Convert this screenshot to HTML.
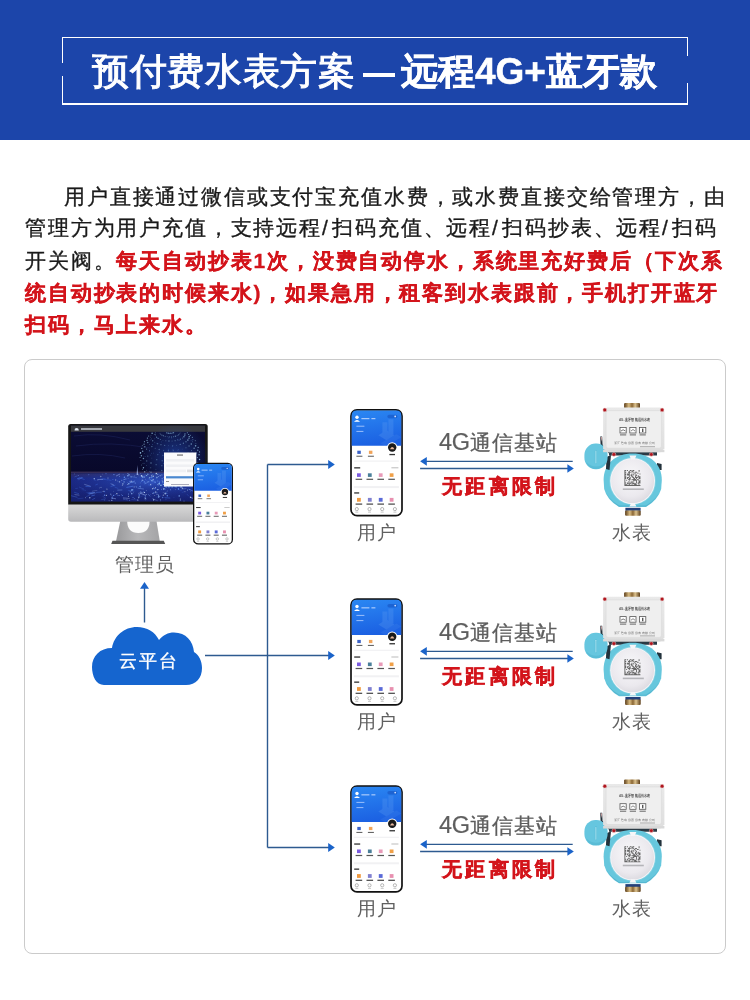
<!DOCTYPE html>
<html><head><meta charset="utf-8"><style>
*{margin:0;padding:0;box-sizing:border-box}
html,body{width:750px;height:1000px;overflow:hidden;background:#fff;font-family:"Liberation Sans",sans-serif}
.abs{position:absolute}
.t1,.t2,.p,.lbl,.g4,.nd{will-change:transform}
#hdr{position:absolute;left:0;top:0;width:750px;height:140px;background:#1c45aa}
.fl{position:absolute;background:#fff}
.t1{position:absolute;top:50px;height:44px;line-height:44px;font-size:37px;color:#fff;white-space:nowrap;-webkit-text-stroke:1px #fff}
.t2{position:absolute;top:50px;height:44px;line-height:44px;font-size:37px;color:#fff;white-space:nowrap;font-weight:bold;-webkit-text-stroke:0.5px #fff}
.p{position:absolute;left:0;height:32px;line-height:32px;font-size:21px;letter-spacing:1.85px;color:#1a1a1a;white-space:nowrap;-webkit-text-stroke:0.35px #1a1a1a}
.p .r,.p.r{-webkit-text-stroke:0.3px #d3141b}
.r{color:#d3141b;font-weight:bold}
.sl{letter-spacing:4.2px}
#card{position:absolute;left:24px;top:359px;width:702px;height:595px;border:1.3px solid #cbcbcb;border-radius:8px}
.lbl{position:absolute;font-size:19px;color:#606060;white-space:nowrap;line-height:24px;letter-spacing:1px}
.n4{font-size:23.5px;letter-spacing:-0.4px;-webkit-text-stroke:0.2px #5e5e5e}
.g4{position:absolute;font-size:20.5px;color:#5e5e5e;-webkit-text-stroke:0.3px #5e5e5e;white-space:nowrap;line-height:24px;letter-spacing:1.3px}
.nd{position:absolute;font-size:20px;color:#d3141b;font-weight:bold;-webkit-text-stroke:0.5px #d3141b;white-space:nowrap;line-height:24px;letter-spacing:3.3px}
</style></head><body>
<div id="hdr">
  <div class="fl" style="left:62px;top:37.2px;width:626px;height:1.2px"></div>
  <div class="fl" style="left:62px;top:103.4px;width:626px;height:1.2px"></div>
  <div class="fl" style="left:62px;top:37.2px;width:1.2px;height:26px"></div>
  <div class="fl" style="left:62px;top:76px;width:1.2px;height:28.6px"></div>
  <div class="fl" style="left:686.8px;top:37.2px;width:1.2px;height:19px"></div>
  <div class="fl" style="left:686.8px;top:83px;width:1.2px;height:21.6px"></div>
  <div class="t1" style="left:92px;letter-spacing:0.7px">预付费水表方案</div>
  <div class="fl" style="left:362.5px;top:73.2px;width:32px;height:3.6px"></div>
  <div class="t2" style="left:401px">远程4G+蓝牙款</div>
</div>
<div class="p" style="left:64px;top:181px">用户直接通过微信或支付宝充值水费，或水费直接交给管理方，由</div>
<div class="p" style="left:25px;top:212px">管理方为用户充值，支持远程<span class="sl">/</span>扫码充值、远程<span class="sl">/</span>扫码抄表、远程<span class="sl">/</span>扫码</div>
<div class="p" style="left:25px;top:245px">开关阀。<span class="r">每天自动抄表1次，没费自动停水，系统里充好费后（下次系</span></div>
<div class="p r" style="left:25px;top:277px">统自动抄表的时候来水)，如果急用，租客到水表跟前，手机打开蓝牙</div>
<div class="p r" style="left:25px;top:309px">扫码，马上来水。</div>
<div id="card"></div>

<svg class="abs" style="left:0;top:0" width="750" height="1000" viewBox="0 0 750 1000"><defs><linearGradient id="phb" x1="0.2" y1="0" x2="0.4" y2="1"><stop offset="0" stop-color="#2a86f2"/><stop offset="1" stop-color="#1b60e2"/></linearGradient><g id="uphone"><rect x="0.6" y="0.6" width="51" height="105.8" rx="6" fill="#fff" stroke="#111" stroke-width="1.7"/><path d="M1.3 6 Q1.3 1.3 6 1.3 H46.2 Q50.9 1.3 50.9 6 V36.4 H1.3 Z" fill="url(#phb)"/><g fill="#5d9cf2" opacity="0.3"><path d="M28 26 L36 21 L44 26 L36 31 Z"/><rect x="32" y="13" width="5" height="14"/><rect x="38" y="10" width="5" height="15"/><path d="M30 34 L46 25 L51 28 L35 37 Z" opacity="0.5"/></g><circle cx="6.6" cy="8" r="1.7" fill="#fff"/><path d="M3.6 12.4 Q6.6 9.2 9.6 12.4 Z" fill="#fff"/><rect x="11" y="8.8" width="8" height="1.1" fill="#cfe0ff" opacity="0.85"/><rect x="21" y="8.8" width="4" height="1.1" fill="#cfe0ff" opacity="0.85"/><rect x="6" y="16.4" width="8" height="1" fill="#b9d2ff" opacity="0.8"/><rect x="6" y="21.6" width="7" height="1" fill="#b9d2ff" opacity="0.8"/><rect x="37" y="5.4" width="10" height="3.5" rx="1.7" fill="#1553c2" opacity="0.6"/><circle cx="44.8" cy="7.1" r="0.9" fill="#cfe0ff"/><circle cx="41.8" cy="38.2" r="5.2" fill="#fff"/><circle cx="41.8" cy="38.2" r="4.2" fill="#1a1a1a"/><path d="M39.6 40 Q41.8 35.5 44 40 Z" fill="#e8b79c"/><rect x="39" y="44.6" width="5.6" height="1.3" fill="#333"/><rect x="6.9" y="41.4" width="3.5" height="3.2" fill="#3a62c8"/><rect x="18.5" y="41.4" width="3.5" height="3.2" fill="#f0a45a"/><rect x="6" y="46.4" width="6" height="1.1" fill="#666"/><rect x="17.5" y="46.4" width="6" height="1.1" fill="#666"/><rect x="3.5" y="51.2" width="45" height="1.2" fill="#f1f1f3"/><rect x="3.8" y="57.9" width="6" height="1.3" fill="#333"/><rect x="41" y="58" width="7" height="1" fill="#bbb"/><rect x="6.6" y="64" width="3.8" height="3.6" fill="#7b5be0"/><rect x="5.2" y="69.4" width="6.6" height="1.2" fill="#555"/><rect x="17.5" y="64" width="3.8" height="3.6" fill="#4a7f9a"/><rect x="16.1" y="69.4" width="6.6" height="1.2" fill="#555"/><rect x="28.4" y="64" width="3.8" height="3.6" fill="#e89ab8"/><rect x="27" y="69.4" width="6.6" height="1.2" fill="#555"/><rect x="39.3" y="64" width="3.8" height="3.6" fill="#f0a048"/><rect x="37.9" y="69.4" width="6.6" height="1.2" fill="#555"/><rect x="3.5" y="76.8" width="45" height="2" fill="#f1f1f3"/><rect x="3.8" y="83" width="5" height="1.3" fill="#333"/><rect x="6.6" y="88.6" width="3.8" height="3.8" fill="#f09a40"/><rect x="5.2" y="94.2" width="6.6" height="1.2" fill="#444"/><rect x="17.5" y="88.6" width="3.8" height="3.8" fill="#8080d0"/><rect x="16.1" y="94.2" width="6.6" height="1.2" fill="#444"/><rect x="28.4" y="88.6" width="3.8" height="3.8" fill="#5a6ad8"/><rect x="27" y="94.2" width="6.6" height="1.2" fill="#444"/><rect x="39.3" y="88.6" width="3.8" height="3.8" fill="#e890b0"/><rect x="37.9" y="94.2" width="6.6" height="1.2" fill="#444"/><circle cx="6.4" cy="99.8" r="1.6" fill="none" stroke="#888" stroke-width="0.6"/><rect x="4.9" y="102.4" width="3" height="0.8" fill="#bbb"/><circle cx="19.1" cy="99.8" r="1.6" fill="none" stroke="#888" stroke-width="0.6"/><rect x="17.6" y="102.4" width="3" height="0.8" fill="#bbb"/><circle cx="31.8" cy="99.8" r="1.6" fill="none" stroke="#888" stroke-width="0.6"/><rect x="30.3" y="102.4" width="3" height="0.8" fill="#bbb"/><circle cx="44.5" cy="99.8" r="1.6" fill="none" stroke="#888" stroke-width="0.6"/><rect x="43" y="102.4" width="3" height="0.8" fill="#bbb"/><path d="M46.2 1.3" /></g><linearGradient id="brass" x1="0" y1="0" x2="1" y2="0"><stop offset="0" stop-color="#5a3c18"/><stop offset="0.3" stop-color="#d8bb82"/><stop offset="0.5" stop-color="#8a6634"/><stop offset="0.7" stop-color="#dcc28e"/><stop offset="1" stop-color="#5a3c18"/></linearGradient><linearGradient id="boxg" x1="0" y1="0" x2="0" y2="1"><stop offset="0" stop-color="#e9e9e9"/><stop offset="1" stop-color="#dedede"/></linearGradient><radialGradient id="dome" cx="0.45" cy="0.4" r="0.6"><stop offset="0" stop-color="#f8f8fa"/><stop offset="0.75" stop-color="#ebe9ee"/><stop offset="1" stop-color="#dedce2"/></radialGradient><g id="meter"><rect x="624.1" y="403.1" width="15.9" height="5.4" rx="1" fill="url(#brass)"/><path d="M601.2 436.5 L601.6 445 L611 454" stroke="#22323c" stroke-width="2" fill="none"/><path d="M600.5 437 L602 437 L601.8 442 Z" fill="#c9a0a0"/><path d="M657 463 L661.6 464 L661.6 470 L657 470 Z" fill="#22323c"/><path d="M609 451.6 H657 V455.5 H609 Z" fill="#2a3a44"/><path d="M603.6 480 C603.6 464 615.5 453.6 632.6 453.6 C649.7 453.6 661.8 464 661.8 480 L661.2 489 Q658 500 646 507 L619 507 Q607 500 604.2 489 Z" fill="#66c7dd"/><path d="M604.6 489.5 Q608 499 619 505.6 L646 505.6 Q657 499 660.6 489.5 Q656 501 646 506.4 L619 506.4 Q609 501 604.6 489.5 Z" fill="#4aaac6" opacity="0.7"/><ellipse cx="632.6" cy="481" rx="23.3" ry="23.9" fill="#84d2e3"/><ellipse cx="632.6" cy="481.1" rx="22.4" ry="23.1" fill="#f6f6f9"/><ellipse cx="632.6" cy="481.1" rx="21.5" ry="22.2" fill="url(#dome)"/><path d="M629.4 455.6 H636.4 L634.6 459.6 H631.2 Z" fill="#f6f6f8"/><path d="M629.4 506.4 H636.4 L634.6 503 H631.2 Z" fill="#f6f6f8"/><path d="M606.5 457 L611 455 L609.5 470 L606 469 Z" fill="#22323c"/><rect x="584.4" y="443.6" width="23.2" height="25.6" rx="11" ry="11.5" fill="#66c6df"/><path d="M586 462 Q596 471 606 462 Q604 468.6 596 469 Q588 468.6 586 462 Z" fill="#52b6d0" opacity="0.6"/><rect x="594.8" y="450" width="2.2" height="14" rx="1.1" fill="#58bcd6"/><rect x="595.4" y="450.6" width="1" height="12.8" rx="0.5" fill="#a8e2ef"/><path d="M607.1 407.6 H660.4 L664.4 411.6 V448.2 L660.4 452.2 H607.1 L603.1 448.2 V411.6 Z" fill="url(#boxg)"/><rect x="606.1" y="410.6" width="55.3" height="37.6" rx="2" fill="#efefef" stroke="#d8d8d8" stroke-width="0.6"/><rect x="603.1" y="449.7" width="61.3" height="2.5" fill="#d9d9d9"/><circle cx="604.8" cy="409.9" r="1.9" fill="#b0161e" stroke="#e8c8c8" stroke-width="0.5"/><circle cx="662.1" cy="409.9" r="1.9" fill="#b0161e" stroke="#e8c8c8" stroke-width="0.5"/><circle cx="613.9" cy="454.4" r="1.9" fill="#b0161e" stroke="#e8c8c8" stroke-width="0.5"/><circle cx="651.3" cy="454.4" r="1.9" fill="#b0161e" stroke="#e8c8c8" stroke-width="0.5"/><text x="619" y="421" font-size="4.4" fill="#555" font-family="Liberation Sans" font-weight="bold" textLength="30.6" lengthAdjust="spacingAndGlyphs">4G-蓝牙 智能远传水表</text><rect x="620" y="427.4" width="6.2" height="5.6" fill="#fff" stroke="#555" stroke-width="0.8"/><rect x="620" y="434.4" width="6.2" height="1" fill="#666"/><rect x="629.8" y="427.4" width="6.2" height="5.6" fill="#fff" stroke="#555" stroke-width="0.8"/><rect x="629.8" y="434.4" width="6.2" height="1" fill="#666"/><rect x="639.6" y="427.4" width="6.2" height="5.6" fill="#fff" stroke="#555" stroke-width="0.8"/><rect x="639.6" y="434.4" width="6.2" height="1" fill="#666"/><path d="M621 431 Q623 428.5 625.4 431" stroke="#555" stroke-width="0.8" fill="none"/><path d="M631 431 Q633 428 635 431" stroke="#555" stroke-width="0.7" fill="none"/><rect x="642" y="428.6" width="1.4" height="3.4" fill="#555"/><text x="614" y="444.4" font-size="3.4" fill="#666" font-family="Liberation Sans" textLength="41" lengthAdjust="spacing">浙江智电仪器仪表有限公司</text><rect x="640" y="446.2" width="15" height="1" fill="#aaa"/><path d="M624.4 470h0.94v0.94h-0.94zM625.29 470h0.94v0.94h-0.94zM627.07 470h0.94v0.94h-0.94zM629.73 470h0.94v0.94h-0.94zM630.62 470h0.94v0.94h-0.94zM632.4 470h0.94v0.94h-0.94zM633.29 470h0.94v0.94h-0.94zM638.62 470h0.94v0.94h-0.94zM624.4 470.89h0.94v0.94h-0.94zM628.84 470.89h0.94v0.94h-0.94zM631.51 470.89h0.94v0.94h-0.94zM632.4 470.89h0.94v0.94h-0.94zM638.62 470.89h0.94v0.94h-0.94zM624.4 471.78h0.94v0.94h-0.94zM625.29 471.78h0.94v0.94h-0.94zM627.96 471.78h0.94v0.94h-0.94zM628.84 471.78h0.94v0.94h-0.94zM629.73 471.78h0.94v0.94h-0.94zM631.51 471.78h0.94v0.94h-0.94zM633.29 471.78h0.94v0.94h-0.94zM635.07 471.78h0.94v0.94h-0.94zM635.96 471.78h0.94v0.94h-0.94zM624.4 472.67h0.94v0.94h-0.94zM628.84 472.67h0.94v0.94h-0.94zM634.18 472.67h0.94v0.94h-0.94zM636.84 472.67h0.94v0.94h-0.94zM637.73 472.67h0.94v0.94h-0.94zM624.4 473.56h0.94v0.94h-0.94zM625.29 473.56h0.94v0.94h-0.94zM627.07 473.56h0.94v0.94h-0.94zM627.96 473.56h0.94v0.94h-0.94zM628.84 473.56h0.94v0.94h-0.94zM631.51 473.56h0.94v0.94h-0.94zM633.29 473.56h0.94v0.94h-0.94zM635.07 473.56h0.94v0.94h-0.94zM639.51 473.56h0.94v0.94h-0.94zM624.4 474.44h0.94v0.94h-0.94zM625.29 474.44h0.94v0.94h-0.94zM627.07 474.44h0.94v0.94h-0.94zM627.96 474.44h0.94v0.94h-0.94zM628.84 474.44h0.94v0.94h-0.94zM630.62 474.44h0.94v0.94h-0.94zM631.51 474.44h0.94v0.94h-0.94zM633.29 474.44h0.94v0.94h-0.94zM635.96 474.44h0.94v0.94h-0.94zM624.4 475.33h0.94v0.94h-0.94zM628.84 475.33h0.94v0.94h-0.94zM630.62 475.33h0.94v0.94h-0.94zM631.51 475.33h0.94v0.94h-0.94zM635.07 475.33h0.94v0.94h-0.94zM635.96 475.33h0.94v0.94h-0.94zM637.73 475.33h0.94v0.94h-0.94zM624.4 476.22h0.94v0.94h-0.94zM625.29 476.22h0.94v0.94h-0.94zM628.84 476.22h0.94v0.94h-0.94zM631.51 476.22h0.94v0.94h-0.94zM632.4 476.22h0.94v0.94h-0.94zM635.07 476.22h0.94v0.94h-0.94zM637.73 476.22h0.94v0.94h-0.94zM638.62 476.22h0.94v0.94h-0.94zM639.51 476.22h0.94v0.94h-0.94zM624.4 477.11h0.94v0.94h-0.94zM625.29 477.11h0.94v0.94h-0.94zM627.07 477.11h0.94v0.94h-0.94zM627.96 477.11h0.94v0.94h-0.94zM629.73 477.11h0.94v0.94h-0.94zM632.4 477.11h0.94v0.94h-0.94zM633.29 477.11h0.94v0.94h-0.94zM635.07 477.11h0.94v0.94h-0.94zM635.96 477.11h0.94v0.94h-0.94zM636.84 477.11h0.94v0.94h-0.94zM638.62 477.11h0.94v0.94h-0.94zM639.51 477.11h0.94v0.94h-0.94zM624.4 478h0.94v0.94h-0.94zM625.29 478h0.94v0.94h-0.94zM627.07 478h0.94v0.94h-0.94zM628.84 478h0.94v0.94h-0.94zM629.73 478h0.94v0.94h-0.94zM633.29 478h0.94v0.94h-0.94zM634.18 478h0.94v0.94h-0.94zM635.96 478h0.94v0.94h-0.94zM638.62 478h0.94v0.94h-0.94zM639.51 478h0.94v0.94h-0.94zM624.4 478.89h0.94v0.94h-0.94zM627.96 478.89h0.94v0.94h-0.94zM628.84 478.89h0.94v0.94h-0.94zM629.73 478.89h0.94v0.94h-0.94zM631.51 478.89h0.94v0.94h-0.94zM632.4 478.89h0.94v0.94h-0.94zM633.29 478.89h0.94v0.94h-0.94zM634.18 478.89h0.94v0.94h-0.94zM635.07 478.89h0.94v0.94h-0.94zM636.84 478.89h0.94v0.94h-0.94zM637.73 478.89h0.94v0.94h-0.94zM624.4 479.78h0.94v0.94h-0.94zM626.18 479.78h0.94v0.94h-0.94zM628.84 479.78h0.94v0.94h-0.94zM633.29 479.78h0.94v0.94h-0.94zM634.18 479.78h0.94v0.94h-0.94zM635.07 479.78h0.94v0.94h-0.94zM635.96 479.78h0.94v0.94h-0.94zM637.73 479.78h0.94v0.94h-0.94zM639.51 479.78h0.94v0.94h-0.94zM624.4 480.67h0.94v0.94h-0.94zM630.62 480.67h0.94v0.94h-0.94zM632.4 480.67h0.94v0.94h-0.94zM633.29 480.67h0.94v0.94h-0.94zM635.96 480.67h0.94v0.94h-0.94zM638.62 480.67h0.94v0.94h-0.94zM639.51 480.67h0.94v0.94h-0.94zM624.4 481.56h0.94v0.94h-0.94zM627.96 481.56h0.94v0.94h-0.94zM628.84 481.56h0.94v0.94h-0.94zM631.51 481.56h0.94v0.94h-0.94zM635.96 481.56h0.94v0.94h-0.94zM638.62 481.56h0.94v0.94h-0.94zM639.51 481.56h0.94v0.94h-0.94zM624.4 482.44h0.94v0.94h-0.94zM625.29 482.44h0.94v0.94h-0.94zM627.07 482.44h0.94v0.94h-0.94zM629.73 482.44h0.94v0.94h-0.94zM630.62 482.44h0.94v0.94h-0.94zM631.51 482.44h0.94v0.94h-0.94zM632.4 482.44h0.94v0.94h-0.94zM633.29 482.44h0.94v0.94h-0.94zM635.96 482.44h0.94v0.94h-0.94zM637.73 482.44h0.94v0.94h-0.94zM638.62 482.44h0.94v0.94h-0.94zM639.51 482.44h0.94v0.94h-0.94zM624.4 483.33h0.94v0.94h-0.94zM627.07 483.33h0.94v0.94h-0.94zM627.96 483.33h0.94v0.94h-0.94zM628.84 483.33h0.94v0.94h-0.94zM629.73 483.33h0.94v0.94h-0.94zM632.4 483.33h0.94v0.94h-0.94zM633.29 483.33h0.94v0.94h-0.94zM634.18 483.33h0.94v0.94h-0.94zM635.07 483.33h0.94v0.94h-0.94zM637.73 483.33h0.94v0.94h-0.94zM624.4 484.22h0.94v0.94h-0.94zM625.29 484.22h0.94v0.94h-0.94zM626.18 484.22h0.94v0.94h-0.94zM628.84 484.22h0.94v0.94h-0.94zM631.51 484.22h0.94v0.94h-0.94zM634.18 484.22h0.94v0.94h-0.94zM635.07 484.22h0.94v0.94h-0.94zM635.96 484.22h0.94v0.94h-0.94zM638.62 484.22h0.94v0.94h-0.94zM624.4 485.11h0.94v0.94h-0.94zM625.29 485.11h0.94v0.94h-0.94zM626.18 485.11h0.94v0.94h-0.94zM627.07 485.11h0.94v0.94h-0.94zM627.96 485.11h0.94v0.94h-0.94zM628.84 485.11h0.94v0.94h-0.94zM629.73 485.11h0.94v0.94h-0.94zM630.62 485.11h0.94v0.94h-0.94zM631.51 485.11h0.94v0.94h-0.94zM632.4 485.11h0.94v0.94h-0.94zM633.29 485.11h0.94v0.94h-0.94zM634.18 485.11h0.94v0.94h-0.94zM635.07 485.11h0.94v0.94h-0.94zM635.96 485.11h0.94v0.94h-0.94zM636.84 485.11h0.94v0.94h-0.94zM637.73 485.11h0.94v0.94h-0.94zM638.62 485.11h0.94v0.94h-0.94zM639.51 485.11h0.94v0.94h-0.94z" fill="#666"/><rect x="622.8" y="488.4" width="21" height="1.6" fill="#b4b4b8"/><rect x="625.4" y="507.8" width="15.2" height="3" fill="#23407a"/><rect x="625.1" y="510.4" width="15.6" height="5.4" rx="1" fill="url(#brass)"/></g><linearGradient id="scr" x1="0" y1="0" x2="0" y2="1"><stop offset="0" stop-color="#0b0d36"/><stop offset="0.6" stop-color="#08082a"/><stop offset="0.64" stop-color="#2a2a68"/><stop offset="0.7" stop-color="#1a2680"/><stop offset="1" stop-color="#16206e"/></linearGradient><linearGradient id="chin" x1="0" y1="0" x2="0" y2="1"><stop offset="0" stop-color="#dadada"/><stop offset="1" stop-color="#b9b9bb"/></linearGradient><linearGradient id="neck" x1="0" y1="0" x2="1" y2="0"><stop offset="0" stop-color="#9a9a9c"/><stop offset="0.5" stop-color="#b8b8ba"/><stop offset="1" stop-color="#a4a4a6"/></linearGradient><radialGradient id="glow" cx="0.5" cy="0.5" r="0.5"><stop offset="0" stop-color="#2a5ad0" stop-opacity="0.55"/><stop offset="1" stop-color="#2a5ad0" stop-opacity="0"/></radialGradient><radialGradient id="cityglow" cx="0.6" cy="0.3" r="0.7"><stop offset="0" stop-color="#3a6ae0" stop-opacity="0.6"/><stop offset="1" stop-color="#2040b0" stop-opacity="0"/></radialGradient><g id="monitor"><path d="M120.3 521 L156.5 521 L159.8 541.2 L116 541.2 Z" fill="url(#neck)"/><path d="M127.2 521 Q127.2 533 138.4 533 Q149.6 533 149.6 521 Z" fill="#fbfbfb"/><path d="M112.5 540.8 H163.8 L165.2 544 H111.2 Z" fill="#555"/><path d="M68.2 504 H207.7 V519 Q207.7 521.8 204.9 521.8 H71 Q68.2 521.8 68.2 519 Z" fill="url(#chin)"/><path d="M68.2 426.5 Q68.2 424 70.7 424 H205.2 Q207.7 424 207.7 426.5 V504.6 H68.2 Z" fill="#151515"/><rect x="71" y="425.6" width="134" height="76" fill="url(#scr)"/><rect x="71" y="473" width="134" height="28.6" fill="url(#cityglow)"/><rect x="71" y="425.6" width="134" height="6.2" fill="#38393e"/><path d="M74.5 430.4 Q74.5 428 76.6 428 Q78.8 428 78.8 430.4 Z" fill="#dfe6f0"/><rect x="81" y="428.2" width="21" height="1.6" fill="#bfc4cc"/><g stroke="#3a4a9a" stroke-width="0.6" fill="none" opacity="0.35"><path d="M74 436 Q100 432 130 440"/><path d="M76 446 Q110 441 150 448"/><path d="M72 456 Q100 452 125 458"/></g><circle cx="175" cy="458" r="34" fill="url(#glow)"/><circle cx="175.13" cy="486.56" r="0.6" fill="#a8e0ff" opacity="0.79"/><circle cx="165.87" cy="486.71" r="0.56" fill="#a8e0ff" opacity="0.92"/><circle cx="168.95" cy="486.96" r="0.61" fill="#a8e0ff" opacity="0.79"/><circle cx="172.09" cy="486.91" r="0.58" fill="#a8e0ff" opacity="0.7"/><circle cx="176.6" cy="485.8" r="0.71" fill="#a8e0ff" opacity="0.74"/><circle cx="180.22" cy="484.97" r="0.49" fill="#a8e0ff" opacity="0.63"/><circle cx="183.4" cy="483.8" r="0.71" fill="#a8e0ff" opacity="0.67"/><circle cx="157.6" cy="484.23" r="0.37" fill="#a8e0ff" opacity="0.82"/><circle cx="160.95" cy="485.28" r="0.78" fill="#a8e0ff" opacity="0.85"/><circle cx="164.68" cy="485.99" r="0.63" fill="#a8e0ff" opacity="0.74"/><circle cx="168.65" cy="486.32" r="0.36" fill="#a8e0ff" opacity="0.61"/><circle cx="172.68" cy="486.26" r="0.38" fill="#a8e0ff" opacity="0.7"/><circle cx="177.86" cy="484.16" r="0.46" fill="#a8e0ff" opacity="0.55"/><circle cx="182.18" cy="483.18" r="0.56" fill="#a8e0ff" opacity="0.55"/><circle cx="185.96" cy="481.79" r="0.73" fill="#a8e0ff" opacity="0.69"/><circle cx="189.05" cy="480.06" r="0.64" fill="#a8e0ff" opacity="0.77"/><circle cx="151.89" cy="480.67" r="0.65" fill="#a8e0ff" opacity="0.74"/><circle cx="155.23" cy="482.29" r="0.48" fill="#a8e0ff" opacity="0.68"/><circle cx="159.21" cy="483.55" r="0.8" fill="#a8e0ff" opacity="0.76"/><circle cx="163.67" cy="484.4" r="0.67" fill="#a8e0ff" opacity="0.69"/><circle cx="168.4" cy="484.79" r="0.45" fill="#a8e0ff" opacity="0.56"/><circle cx="173.2" cy="484.71" r="0.38" fill="#a8e0ff" opacity="0.56"/><circle cx="178.89" cy="481.71" r="0.53" fill="#a8e0ff" opacity="0.59"/><circle cx="183.77" cy="480.59" r="0.52" fill="#a8e0ff" opacity="0.65"/><circle cx="188.05" cy="479.02" r="0.73" fill="#a8e0ff" opacity="0.74"/><circle cx="191.54" cy="477.06" r="0.44" fill="#a8e0ff" opacity="0.58"/><circle cx="194.09" cy="474.81" r="0.56" fill="#a8e0ff" opacity="0.89"/><circle cx="146.65" cy="475.59" r="0.53" fill="#a8e0ff" opacity="0.88"/><circle cx="149.53" cy="477.75" r="0.63" fill="#a8e0ff" opacity="0.58"/><circle cx="153.3" cy="479.59" r="0.47" fill="#a8e0ff" opacity="0.67"/><circle cx="157.8" cy="481.01" r="0.5" fill="#a8e0ff" opacity="0.48"/><circle cx="162.84" cy="481.97" r="0.69" fill="#a8e0ff" opacity="0.62"/><circle cx="168.19" cy="482.41" r="0.46" fill="#a8e0ff" opacity="0.45"/><circle cx="173.62" cy="482.32" r="0.38" fill="#a8e0ff" opacity="0.45"/><circle cx="179.64" cy="478.5" r="0.43" fill="#a8e0ff" opacity="0.51"/><circle cx="184.94" cy="477.28" r="0.55" fill="#a8e0ff" opacity="0.52"/><circle cx="189.58" cy="475.58" r="0.68" fill="#a8e0ff" opacity="0.5"/><circle cx="193.37" cy="473.46" r="0.64" fill="#a8e0ff" opacity="0.56"/><circle cx="196.14" cy="471.02" r="0.54" fill="#a8e0ff" opacity="0.63"/><circle cx="142.65" cy="469.26" r="0.47" fill="#a8e0ff" opacity="0.71"/><circle cx="144.66" cy="471.86" r="0.71" fill="#a8e0ff" opacity="0.81"/><circle cx="147.79" cy="474.21" r="0.75" fill="#a8e0ff" opacity="0.57"/><circle cx="151.88" cy="476.2" r="0.53" fill="#a8e0ff" opacity="0.49"/><circle cx="156.77" cy="477.75" r="0.64" fill="#a8e0ff" opacity="0.55"/><circle cx="162.23" cy="478.78" r="0.8" fill="#a8e0ff" opacity="0.39"/><circle cx="168.03" cy="479.26" r="0.47" fill="#a8e0ff" opacity="0.39"/><circle cx="173.92" cy="479.17" r="0.5" fill="#a8e0ff" opacity="0.48"/><circle cx="180.1" cy="474.63" r="0.38" fill="#a8e0ff" opacity="0.37"/><circle cx="185.66" cy="473.36" r="0.61" fill="#a8e0ff" opacity="0.38"/><circle cx="190.52" cy="471.58" r="0.62" fill="#a8e0ff" opacity="0.46"/><circle cx="194.49" cy="469.36" r="0.55" fill="#a8e0ff" opacity="0.56"/><circle cx="197.39" cy="466.8" r="0.57" fill="#a8e0ff" opacity="0.78"/><circle cx="199.1" cy="464.01" r="0.74" fill="#a8e0ff" opacity="0.79"/><circle cx="141.33" cy="464.96" r="0.42" fill="#a8e0ff" opacity="0.65"/><circle cx="143.45" cy="467.68" r="0.72" fill="#a8e0ff" opacity="0.73"/><circle cx="146.72" cy="470.14" r="0.44" fill="#a8e0ff" opacity="0.51"/><circle cx="151.01" cy="472.22" r="0.77" fill="#a8e0ff" opacity="0.53"/><circle cx="156.13" cy="473.85" r="0.78" fill="#a8e0ff" opacity="0.38"/><circle cx="161.86" cy="474.93" r="0.62" fill="#a8e0ff" opacity="0.44"/><circle cx="167.94" cy="475.44" r="0.4" fill="#a8e0ff" opacity="0.36"/><circle cx="174.11" cy="475.33" r="0.78" fill="#a8e0ff" opacity="0.32"/><circle cx="180.26" cy="470.23" r="0.67" fill="#a8e0ff" opacity="0.32"/><circle cx="185.9" cy="468.94" r="0.72" fill="#a8e0ff" opacity="0.36"/><circle cx="190.84" cy="467.13" r="0.48" fill="#a8e0ff" opacity="0.47"/><circle cx="194.87" cy="464.88" r="0.67" fill="#a8e0ff" opacity="0.47"/><circle cx="197.82" cy="462.28" r="0.45" fill="#a8e0ff" opacity="0.53"/><circle cx="199.54" cy="459.45" r="0.73" fill="#a8e0ff" opacity="0.74"/><circle cx="140.02" cy="457.49" r="0.48" fill="#a8e0ff" opacity="0.82"/><circle cx="140.89" cy="460.41" r="0.44" fill="#a8e0ff" opacity="0.79"/><circle cx="143.04" cy="463.17" r="0.47" fill="#a8e0ff" opacity="0.49"/><circle cx="146.36" cy="465.67" r="0.38" fill="#a8e0ff" opacity="0.5"/><circle cx="150.72" cy="467.79" r="0.52" fill="#a8e0ff" opacity="0.38"/><circle cx="155.92" cy="469.44" r="0.41" fill="#a8e0ff" opacity="0.39"/><circle cx="161.73" cy="470.54" r="0.75" fill="#a8e0ff" opacity="0.32"/><circle cx="167.91" cy="471.05" r="0.65" fill="#a8e0ff" opacity="0.38"/><circle cx="174.18" cy="470.95" r="0.61" fill="#a8e0ff" opacity="0.35"/><circle cx="180.1" cy="465.43" r="0.37" fill="#a8e0ff" opacity="0.27"/><circle cx="185.66" cy="464.16" r="0.76" fill="#a8e0ff" opacity="0.29"/><circle cx="190.52" cy="462.38" r="0.78" fill="#a8e0ff" opacity="0.45"/><circle cx="194.49" cy="460.16" r="0.64" fill="#a8e0ff" opacity="0.41"/><circle cx="197.39" cy="457.6" r="0.68" fill="#a8e0ff" opacity="0.58"/><circle cx="199.1" cy="454.81" r="0.8" fill="#a8e0ff" opacity="0.64"/><circle cx="199.53" cy="451.92" r="0.6" fill="#a8e0ff" opacity="0.66"/><circle cx="140.47" cy="452.88" r="0.76" fill="#a8e0ff" opacity="0.81"/><circle cx="141.33" cy="455.76" r="0.67" fill="#a8e0ff" opacity="0.7"/><circle cx="143.45" cy="458.48" r="0.76" fill="#a8e0ff" opacity="0.61"/><circle cx="146.72" cy="460.94" r="0.66" fill="#a8e0ff" opacity="0.44"/><circle cx="151.01" cy="463.03" r="0.74" fill="#a8e0ff" opacity="0.45"/><circle cx="156.13" cy="464.65" r="0.71" fill="#a8e0ff" opacity="0.33"/><circle cx="161.86" cy="465.73" r="0.61" fill="#a8e0ff" opacity="0.34"/><circle cx="167.94" cy="466.24" r="0.52" fill="#a8e0ff" opacity="0.3"/><circle cx="174.11" cy="466.14" r="0.62" fill="#a8e0ff" opacity="0.3"/><circle cx="179.64" cy="460.38" r="0.64" fill="#a8e0ff" opacity="0.25"/><circle cx="184.94" cy="459.16" r="0.75" fill="#a8e0ff" opacity="0.39"/><circle cx="189.58" cy="457.46" r="0.52" fill="#a8e0ff" opacity="0.42"/><circle cx="193.37" cy="455.34" r="0.61" fill="#a8e0ff" opacity="0.5"/><circle cx="196.14" cy="452.9" r="0.73" fill="#a8e0ff" opacity="0.54"/><circle cx="197.76" cy="450.24" r="0.69" fill="#a8e0ff" opacity="0.55"/><circle cx="198.17" cy="447.48" r="0.62" fill="#a8e0ff" opacity="0.61"/><circle cx="142.24" cy="445.64" r="0.45" fill="#a8e0ff" opacity="0.79"/><circle cx="141.83" cy="448.4" r="0.57" fill="#a8e0ff" opacity="0.75"/><circle cx="142.65" cy="451.14" r="0.76" fill="#a8e0ff" opacity="0.63"/><circle cx="144.66" cy="453.74" r="0.36" fill="#a8e0ff" opacity="0.47"/><circle cx="147.79" cy="456.09" r="0.66" fill="#a8e0ff" opacity="0.41"/><circle cx="151.88" cy="458.08" r="0.43" fill="#a8e0ff" opacity="0.33"/><circle cx="156.77" cy="459.63" r="0.65" fill="#a8e0ff" opacity="0.36"/><circle cx="162.23" cy="460.66" r="0.75" fill="#a8e0ff" opacity="0.27"/><circle cx="168.03" cy="461.14" r="0.65" fill="#a8e0ff" opacity="0.25"/><circle cx="173.92" cy="461.05" r="0.54" fill="#a8e0ff" opacity="0.24"/><circle cx="178.89" cy="455.22" r="0.76" fill="#a8e0ff" opacity="0.31"/><circle cx="183.77" cy="454.1" r="0.52" fill="#a8e0ff" opacity="0.36"/><circle cx="188.05" cy="452.53" r="0.49" fill="#a8e0ff" opacity="0.38"/><circle cx="191.54" cy="450.58" r="0.57" fill="#a8e0ff" opacity="0.38"/><circle cx="194.09" cy="448.32" r="0.73" fill="#a8e0ff" opacity="0.58"/><circle cx="195.59" cy="445.87" r="0.78" fill="#a8e0ff" opacity="0.65"/><circle cx="195.96" cy="443.33" r="0.43" fill="#a8e0ff" opacity="0.64"/><circle cx="195.21" cy="440.81" r="0.47" fill="#a8e0ff" opacity="0.77"/><circle cx="144.41" cy="441.64" r="0.54" fill="#a8e0ff" opacity="0.68"/><circle cx="144.04" cy="444.18" r="0.57" fill="#a8e0ff" opacity="0.69"/><circle cx="144.79" cy="446.71" r="0.73" fill="#a8e0ff" opacity="0.54"/><circle cx="146.65" cy="449.1" r="0.55" fill="#a8e0ff" opacity="0.58"/><circle cx="149.53" cy="451.27" r="0.36" fill="#a8e0ff" opacity="0.36"/><circle cx="153.3" cy="453.1" r="0.37" fill="#a8e0ff" opacity="0.4"/><circle cx="157.8" cy="454.53" r="0.61" fill="#a8e0ff" opacity="0.33"/><circle cx="162.84" cy="455.48" r="0.71" fill="#a8e0ff" opacity="0.25"/><circle cx="168.19" cy="455.92" r="0.41" fill="#a8e0ff" opacity="0.21"/><circle cx="173.62" cy="455.83" r="0.36" fill="#a8e0ff" opacity="0.26"/><circle cx="177.86" cy="450.11" r="0.46" fill="#a8e0ff" opacity="0.32"/><circle cx="182.18" cy="449.12" r="0.37" fill="#a8e0ff" opacity="0.28"/><circle cx="185.96" cy="447.73" r="0.55" fill="#a8e0ff" opacity="0.39"/><circle cx="189.05" cy="446.01" r="0.64" fill="#a8e0ff" opacity="0.45"/><circle cx="191.31" cy="444.02" r="0.78" fill="#a8e0ff" opacity="0.56"/><circle cx="192.63" cy="441.85" r="0.44" fill="#a8e0ff" opacity="0.61"/><circle cx="192.97" cy="439.6" r="0.43" fill="#a8e0ff" opacity="0.65"/><circle cx="192.3" cy="437.36" r="0.56" fill="#a8e0ff" opacity="0.6"/><circle cx="190.66" cy="435.24" r="0.43" fill="#a8e0ff" opacity="0.87"/><circle cx="148.69" cy="435.93" r="0.51" fill="#a8e0ff" opacity="0.72"/><circle cx="147.37" cy="438.1" r="0.58" fill="#a8e0ff" opacity="0.75"/><circle cx="147.03" cy="440.35" r="0.69" fill="#a8e0ff" opacity="0.65"/><circle cx="147.7" cy="442.58" r="0.71" fill="#a8e0ff" opacity="0.53"/><circle cx="149.34" cy="444.7" r="0.39" fill="#a8e0ff" opacity="0.55"/><circle cx="151.89" cy="446.62" r="0.68" fill="#a8e0ff" opacity="0.47"/><circle cx="155.23" cy="448.24" r="0.55" fill="#a8e0ff" opacity="0.31"/><circle cx="159.21" cy="449.5" r="0.76" fill="#a8e0ff" opacity="0.32"/><circle cx="163.67" cy="450.34" r="0.61" fill="#a8e0ff" opacity="0.27"/><circle cx="168.4" cy="450.74" r="0.71" fill="#a8e0ff" opacity="0.3"/><circle cx="173.2" cy="450.66" r="0.56" fill="#a8e0ff" opacity="0.31"/><circle cx="176.6" cy="445.22" r="0.44" fill="#a8e0ff" opacity="0.33"/><circle cx="180.22" cy="444.39" r="0.72" fill="#a8e0ff" opacity="0.37"/><circle cx="183.4" cy="443.22" r="0.67" fill="#a8e0ff" opacity="0.4"/><circle cx="185.99" cy="441.77" r="0.75" fill="#a8e0ff" opacity="0.39"/><circle cx="187.88" cy="440.1" r="0.79" fill="#a8e0ff" opacity="0.57"/><circle cx="188.99" cy="438.28" r="0.71" fill="#a8e0ff" opacity="0.56"/><circle cx="189.27" cy="436.39" r="0.76" fill="#a8e0ff" opacity="0.58"/><circle cx="188.71" cy="434.52" r="0.51" fill="#a8e0ff" opacity="0.77"/><circle cx="187.33" cy="432.74" r="0.55" fill="#a8e0ff" opacity="0.64"/><circle cx="152.12" cy="433.32" r="0.7" fill="#a8e0ff" opacity="0.74"/><circle cx="151.01" cy="435.14" r="0.36" fill="#a8e0ff" opacity="0.66"/><circle cx="150.73" cy="437.02" r="0.38" fill="#a8e0ff" opacity="0.66"/><circle cx="151.29" cy="438.9" r="0.43" fill="#a8e0ff" opacity="0.59"/><circle cx="152.67" cy="440.68" r="0.7" fill="#a8e0ff" opacity="0.44"/><circle cx="154.8" cy="442.28" r="0.42" fill="#a8e0ff" opacity="0.36"/><circle cx="157.6" cy="443.64" r="0.68" fill="#a8e0ff" opacity="0.37"/><circle cx="160.95" cy="444.7" r="0.66" fill="#a8e0ff" opacity="0.37"/><circle cx="164.68" cy="445.41" r="0.57" fill="#a8e0ff" opacity="0.36"/><circle cx="168.65" cy="445.74" r="0.39" fill="#a8e0ff" opacity="0.34"/><circle cx="172.68" cy="445.67" r="0.59" fill="#a8e0ff" opacity="0.27"/><circle cx="175.13" cy="440.68" r="0.68" fill="#a8e0ff" opacity="0.33"/><circle cx="177.95" cy="440.03" r="0.59" fill="#a8e0ff" opacity="0.39"/><circle cx="180.42" cy="439.13" r="0.6" fill="#a8e0ff" opacity="0.46"/><circle cx="182.44" cy="438" r="0.52" fill="#a8e0ff" opacity="0.42"/><circle cx="183.91" cy="436.7" r="0.76" fill="#a8e0ff" opacity="0.55"/><circle cx="184.77" cy="435.28" r="0.73" fill="#a8e0ff" opacity="0.48"/><circle cx="184.99" cy="433.81" r="0.59" fill="#a8e0ff" opacity="0.69"/><circle cx="155.23" cy="432.84" r="0.44" fill="#a8e0ff" opacity="0.64"/><circle cx="155.01" cy="434.31" r="0.58" fill="#a8e0ff" opacity="0.58"/><circle cx="155.45" cy="435.76" r="0.36" fill="#a8e0ff" opacity="0.54"/><circle cx="156.52" cy="437.15" r="0.58" fill="#a8e0ff" opacity="0.55"/><circle cx="158.18" cy="438.4" r="0.71" fill="#a8e0ff" opacity="0.42"/><circle cx="160.36" cy="439.45" r="0.57" fill="#a8e0ff" opacity="0.4"/><circle cx="162.96" cy="440.28" r="0.38" fill="#a8e0ff" opacity="0.39"/><circle cx="165.87" cy="440.83" r="0.54" fill="#a8e0ff" opacity="0.35"/><circle cx="168.95" cy="441.09" r="0.77" fill="#a8e0ff" opacity="0.39"/><circle cx="172.09" cy="441.03" r="0.56" fill="#a8e0ff" opacity="0.31"/><circle cx="173.51" cy="436.64" r="0.55" fill="#a8e0ff" opacity="0.35"/><circle cx="175.44" cy="436.19" r="0.76" fill="#a8e0ff" opacity="0.47"/><circle cx="177.13" cy="435.57" r="0.49" fill="#a8e0ff" opacity="0.44"/><circle cx="178.51" cy="434.8" r="0.63" fill="#a8e0ff" opacity="0.42"/><circle cx="179.51" cy="433.91" r="0.41" fill="#a8e0ff" opacity="0.58"/><circle cx="180.1" cy="432.95" r="0.36" fill="#a8e0ff" opacity="0.59"/><circle cx="160.04" cy="433.27" r="0.45" fill="#a8e0ff" opacity="0.47"/><circle cx="160.78" cy="434.22" r="0.49" fill="#a8e0ff" opacity="0.52"/><circle cx="161.91" cy="435.07" r="0.63" fill="#a8e0ff" opacity="0.44"/><circle cx="163.4" cy="435.8" r="0.68" fill="#a8e0ff" opacity="0.38"/><circle cx="165.18" cy="436.36" r="0.58" fill="#a8e0ff" opacity="0.36"/><circle cx="167.17" cy="436.74" r="0.44" fill="#a8e0ff" opacity="0.37"/><circle cx="169.28" cy="436.91" r="0.55" fill="#a8e0ff" opacity="0.4"/><circle cx="171.43" cy="436.88" r="0.54" fill="#a8e0ff" opacity="0.38"/><circle cx="171.78" cy="433.21" r="0.42" fill="#a8e0ff" opacity="0.48"/><circle cx="172.76" cy="432.99" r="0.63" fill="#a8e0ff" opacity="0.43"/><circle cx="173.62" cy="432.67" r="0.59" fill="#a8e0ff" opacity="0.52"/><circle cx="166.65" cy="432.79" r="0.63" fill="#a8e0ff" opacity="0.55"/><circle cx="167.55" cy="433.07" r="0.45" fill="#a8e0ff" opacity="0.54"/><circle cx="168.56" cy="433.26" r="0.71" fill="#a8e0ff" opacity="0.51"/><circle cx="169.64" cy="433.35" r="0.49" fill="#a8e0ff" opacity="0.53"/><circle cx="170.73" cy="433.34" r="0.77" fill="#a8e0ff" opacity="0.44"/><circle cx="175.96" cy="486.38" r="0.4" fill="#6fb0ff" opacity="0.5"/><circle cx="178.35" cy="449.87" r="0.4" fill="#6fb0ff" opacity="0.5"/><circle cx="171.71" cy="482.51" r="0.4" fill="#6fb0ff" opacity="0.5"/><circle cx="169.44" cy="466.33" r="0.4" fill="#6fb0ff" opacity="0.5"/><circle cx="179.62" cy="440.06" r="0.4" fill="#6fb0ff" opacity="0.5"/><circle cx="172.64" cy="446.68" r="0.4" fill="#6fb0ff" opacity="0.5"/><circle cx="149.66" cy="471.24" r="0.4" fill="#6fb0ff" opacity="0.5"/><circle cx="183.36" cy="458.5" r="0.4" fill="#6fb0ff" opacity="0.5"/><circle cx="179.99" cy="454.99" r="0.4" fill="#6fb0ff" opacity="0.5"/><circle cx="143.9" cy="456.07" r="0.4" fill="#6fb0ff" opacity="0.5"/><circle cx="145.16" cy="456.57" r="0.4" fill="#6fb0ff" opacity="0.5"/><circle cx="172.98" cy="464.39" r="0.4" fill="#6fb0ff" opacity="0.5"/><circle cx="174.56" cy="460.59" r="0.4" fill="#6fb0ff" opacity="0.5"/><circle cx="149.6" cy="450.13" r="0.4" fill="#6fb0ff" opacity="0.5"/><circle cx="159.57" cy="452.19" r="0.4" fill="#6fb0ff" opacity="0.5"/><circle cx="175.42" cy="469.42" r="0.4" fill="#6fb0ff" opacity="0.5"/><circle cx="178.3" cy="452.9" r="0.4" fill="#6fb0ff" opacity="0.5"/><circle cx="197.07" cy="468.1" r="0.4" fill="#6fb0ff" opacity="0.5"/><circle cx="144.51" cy="463.19" r="0.4" fill="#6fb0ff" opacity="0.5"/><circle cx="160.48" cy="475.16" r="0.4" fill="#6fb0ff" opacity="0.5"/><circle cx="150.42" cy="455.11" r="0.4" fill="#6fb0ff" opacity="0.5"/><circle cx="167.22" cy="454.95" r="0.4" fill="#6fb0ff" opacity="0.5"/><circle cx="178.46" cy="475.36" r="0.4" fill="#6fb0ff" opacity="0.5"/><circle cx="168.72" cy="437.94" r="0.4" fill="#6fb0ff" opacity="0.5"/><circle cx="174.12" cy="468.47" r="0.4" fill="#6fb0ff" opacity="0.5"/><circle cx="166.29" cy="456.71" r="0.4" fill="#6fb0ff" opacity="0.5"/><circle cx="191.04" cy="440.3" r="0.4" fill="#6fb0ff" opacity="0.5"/><circle cx="156.89" cy="443.14" r="0.4" fill="#6fb0ff" opacity="0.5"/><circle cx="152.73" cy="444.52" r="0.4" fill="#6fb0ff" opacity="0.5"/><circle cx="196.75" cy="454.08" r="0.4" fill="#6fb0ff" opacity="0.5"/><circle cx="168.51" cy="485.6" r="0.4" fill="#6fb0ff" opacity="0.5"/><circle cx="177.55" cy="439.45" r="0.4" fill="#6fb0ff" opacity="0.5"/><circle cx="192.4" cy="439.97" r="0.4" fill="#6fb0ff" opacity="0.5"/><circle cx="171.83" cy="437.98" r="0.4" fill="#6fb0ff" opacity="0.5"/><circle cx="168.64" cy="449.15" r="0.4" fill="#6fb0ff" opacity="0.5"/><circle cx="158.81" cy="474.22" r="0.4" fill="#6fb0ff" opacity="0.5"/><circle cx="187.85" cy="458.19" r="0.4" fill="#6fb0ff" opacity="0.5"/><circle cx="154.75" cy="438.86" r="0.4" fill="#6fb0ff" opacity="0.5"/><circle cx="173.27" cy="485.97" r="0.4" fill="#6fb0ff" opacity="0.5"/><circle cx="161.23" cy="441.93" r="0.4" fill="#6fb0ff" opacity="0.5"/><circle cx="157.84" cy="437.9" r="0.4" fill="#6fb0ff" opacity="0.5"/><circle cx="151.68" cy="453.14" r="0.4" fill="#6fb0ff" opacity="0.5"/><circle cx="194.04" cy="456.98" r="0.4" fill="#6fb0ff" opacity="0.5"/><circle cx="174.5" cy="456.43" r="0.4" fill="#6fb0ff" opacity="0.5"/><circle cx="150.7" cy="439.9" r="0.4" fill="#6fb0ff" opacity="0.5"/><circle cx="169.21" cy="475.99" r="0.4" fill="#6fb0ff" opacity="0.5"/><circle cx="182.6" cy="461.13" r="0.4" fill="#6fb0ff" opacity="0.5"/><circle cx="163.32" cy="463.63" r="0.4" fill="#6fb0ff" opacity="0.5"/><circle cx="169.84" cy="485.55" r="0.4" fill="#6fb0ff" opacity="0.5"/><circle cx="149.67" cy="450.39" r="0.4" fill="#6fb0ff" opacity="0.5"/><circle cx="192.13" cy="452.36" r="0.4" fill="#6fb0ff" opacity="0.5"/><circle cx="193.95" cy="456.26" r="0.4" fill="#6fb0ff" opacity="0.5"/><circle cx="173.03" cy="449.29" r="0.4" fill="#6fb0ff" opacity="0.5"/><path d="M148.08 494.22 l2.23 2.15" stroke="#8ab4ff" stroke-width="0.55" opacity="0.69"/><path d="M181.38 489.01 l4.98 -0.35" stroke="#b0c8ff" stroke-width="0.57" opacity="0.51"/><path d="M148.12 484.77 l3.43 0.78" stroke="#3f6fe0" stroke-width="0.67" opacity="0.6"/><path d="M74.47 494.54 l4.93 0.66" stroke="#b0c8ff" stroke-width="0.7" opacity="0.46"/><path d="M186.78 493.96 l2.25 2.44" stroke="#3f6fe0" stroke-width="0.43" opacity="0.66"/><path d="M126.41 487.46 l6.87 -1.28" stroke="#5a8cff" stroke-width="0.77" opacity="0.59"/><path d="M131.42 499.49 l6.08 0.52" stroke="#5a8cff" stroke-width="0.42" opacity="0.47"/><path d="M86.22 496.67 l3.78 -1.73" stroke="#3f6fe0" stroke-width="0.58" opacity="0.57"/><path d="M129.77 482.29 l4.91 -0.4" stroke="#8ab4ff" stroke-width="0.78" opacity="0.59"/><path d="M101.76 478.73 l6.46 1.42" stroke="#3f6fe0" stroke-width="0.51" opacity="0.54"/><path d="M164.53 492.78 l2.95 -1.11" stroke="#8ab4ff" stroke-width="0.48" opacity="0.4"/><path d="M197.38 497.98 l6.39 -2.3" stroke="#5a8cff" stroke-width="0.4" opacity="0.4"/><path d="M74.47 476.91 l3.11 -1.11" stroke="#5a8cff" stroke-width="0.77" opacity="0.36"/><path d="M101.28 499.56 l4.42 -0.73" stroke="#3f6fe0" stroke-width="0.54" opacity="0.6"/><path d="M179.17 477.78 l2.6 1.55" stroke="#8ab4ff" stroke-width="0.58" opacity="0.6"/><path d="M121.33 479.62 l2.77 1.68" stroke="#3f6fe0" stroke-width="0.52" opacity="0.6"/><path d="M177.57 480.41 l5.27 0.4" stroke="#b0c8ff" stroke-width="0.75" opacity="0.33"/><path d="M81.71 489.54 l4.42 0.93" stroke="#3f6fe0" stroke-width="0.73" opacity="0.3"/><path d="M111.01 497.86 l5.02 0.98" stroke="#b0c8ff" stroke-width="0.69" opacity="0.58"/><path d="M107.5 479.43 l3.79 1.13" stroke="#3f6fe0" stroke-width="0.76" opacity="0.43"/><path d="M127.89 490.27 l6.51 0.94" stroke="#3f6fe0" stroke-width="0.58" opacity="0.62"/><path d="M110.31 483.62 l4 2.17" stroke="#8ab4ff" stroke-width="0.43" opacity="0.63"/><path d="M74.11 492.25 l4.92 1.48" stroke="#3f6fe0" stroke-width="0.72" opacity="0.52"/><path d="M178.89 489.51 l2.88 1.29" stroke="#3f6fe0" stroke-width="0.72" opacity="0.39"/><path d="M78.45 479.81 l3.48 -2.39" stroke="#b0c8ff" stroke-width="0.43" opacity="0.52"/><path d="M172.66 478.02 l2.41 1.19" stroke="#3f6fe0" stroke-width="0.43" opacity="0.55"/><path d="M89.56 493.9 l5.25 -1.27" stroke="#8ab4ff" stroke-width="0.6" opacity="0.66"/><path d="M114.62 487.02 l3.75 1.54" stroke="#3f6fe0" stroke-width="0.67" opacity="0.5"/><path d="M140.32 493.3 l5.54 2.07" stroke="#b0c8ff" stroke-width="0.7" opacity="0.69"/><path d="M116.04 476.09 l3.89 -2.05" stroke="#b0c8ff" stroke-width="0.78" opacity="0.56"/><path d="M138.58 493.04 l6.01 -0.39" stroke="#b0c8ff" stroke-width="0.77" opacity="0.4"/><path d="M91.93 491.24 l5.42 -0.9" stroke="#b0c8ff" stroke-width="0.57" opacity="0.42"/><path d="M196.1 477.42 l3.54 -1.93" stroke="#8ab4ff" stroke-width="0.71" opacity="0.37"/><path d="M79.04 487.01 l4.92 2.05" stroke="#5a8cff" stroke-width="0.53" opacity="0.38"/><path d="M117.35 490.12 l5 -0.14" stroke="#8ab4ff" stroke-width="0.58" opacity="0.66"/><path d="M122.92 497.86 l6.69 0.63" stroke="#b0c8ff" stroke-width="0.74" opacity="0.49"/><path d="M122.94 498.94 l5.3 1.36" stroke="#5a8cff" stroke-width="0.59" opacity="0.39"/><path d="M77.41 498.74 l6.01 -0.58" stroke="#3f6fe0" stroke-width="0.72" opacity="0.32"/><path d="M190.23 497.41 l6.37 2.03" stroke="#b0c8ff" stroke-width="0.72" opacity="0.59"/><path d="M149.18 479.77 l2.78 -0.89" stroke="#3f6fe0" stroke-width="0.76" opacity="0.62"/><path d="M87.91 493.8 l5.1 0.08" stroke="#5a8cff" stroke-width="0.46" opacity="0.61"/><path d="M71.18 495.71 l6.23 1.61" stroke="#5a8cff" stroke-width="0.54" opacity="0.55"/><path d="M139.11 497.35 l5.47 -2.09" stroke="#3f6fe0" stroke-width="0.41" opacity="0.38"/><path d="M95.91 492.37 l5.91 -0.3" stroke="#5a8cff" stroke-width="0.62" opacity="0.51"/><path d="M91.32 495.97 l3.56 -0.95" stroke="#5a8cff" stroke-width="0.62" opacity="0.7"/><path d="M157.06 477.61 l2.37 -1.8" stroke="#b0c8ff" stroke-width="0.67" opacity="0.6"/><path d="M172.19 478.93 l4.23 1.82" stroke="#b0c8ff" stroke-width="0.49" opacity="0.53"/><path d="M130.09 476.25 l6.96 1.5" stroke="#8ab4ff" stroke-width="0.76" opacity="0.36"/><path d="M151.98 498.5 l5.75 2.27" stroke="#b0c8ff" stroke-width="0.62" opacity="0.33"/><path d="M95.34 485.04 l2.55 -0.95" stroke="#3f6fe0" stroke-width="0.63" opacity="0.59"/><path d="M113.78 495.85 l2.46 -1.8" stroke="#5a8cff" stroke-width="0.45" opacity="0.55"/><path d="M94.12 480.64 l2.18 -0.18" stroke="#5a8cff" stroke-width="0.44" opacity="0.31"/><path d="M198.38 486.41 l5.86 -0.79" stroke="#b0c8ff" stroke-width="0.77" opacity="0.36"/><path d="M97.5 479.55 l5.46 -0.09" stroke="#b0c8ff" stroke-width="0.65" opacity="0.59"/><path d="M150.09 483.62 l5.94 -1.27" stroke="#5a8cff" stroke-width="0.5" opacity="0.38"/><path d="M110.57 486.59 l4.79 -1.48" stroke="#3f6fe0" stroke-width="0.72" opacity="0.63"/><path d="M149.88 479.8 l5.83 2.01" stroke="#8ab4ff" stroke-width="0.54" opacity="0.5"/><path d="M89.29 493.12 l6.93 0.08" stroke="#8ab4ff" stroke-width="0.63" opacity="0.31"/><path d="M156.07 494.64 l2.68 -0.11" stroke="#b0c8ff" stroke-width="0.68" opacity="0.43"/><path d="M190.85 484.67 l4.32 -1.88" stroke="#8ab4ff" stroke-width="0.5" opacity="0.53"/><path d="M141.45 477.53 l6.58 -1.66" stroke="#3f6fe0" stroke-width="0.64" opacity="0.35"/><path d="M177.38 482.93 l6.49 -1.3" stroke="#3f6fe0" stroke-width="0.73" opacity="0.37"/><path d="M141.67 477.83 l2.16 -1.6" stroke="#8ab4ff" stroke-width="0.52" opacity="0.57"/><path d="M166.16 485.16 l4.96 1.52" stroke="#5a8cff" stroke-width="0.46" opacity="0.46"/><path d="M75.26 488.67 l2.59 -0.47" stroke="#3f6fe0" stroke-width="0.61" opacity="0.41"/><path d="M144.28 483.97 l5.21 -2.31" stroke="#8ab4ff" stroke-width="0.56" opacity="0.5"/><path d="M84.23 484.29 l6.48 2.07" stroke="#b0c8ff" stroke-width="0.7" opacity="0.49"/><path d="M199.31 496.12 l6.28 -0.45" stroke="#b0c8ff" stroke-width="0.45" opacity="0.35"/><path d="M192.12 483.93 l4.6 -0.4" stroke="#5a8cff" stroke-width="0.53" opacity="0.32"/><path d="M164.6 497.6 l5.66 0.49" stroke="#3f6fe0" stroke-width="0.75" opacity="0.65"/><path d="M102.52 496.27 l3.21 1.87" stroke="#5a8cff" stroke-width="0.59" opacity="0.34"/><path d="M188.38 489.08 l5.28 2.2" stroke="#5a8cff" stroke-width="0.8" opacity="0.59"/><path d="M183.42 484.85 l4.73 0.32" stroke="#8ab4ff" stroke-width="0.49" opacity="0.6"/><path d="M144.12 497.68 l2.49 1.46" stroke="#5a8cff" stroke-width="0.75" opacity="0.53"/><path d="M129.46 483.11 l5.64 -2.38" stroke="#8ab4ff" stroke-width="0.43" opacity="0.66"/><path d="M176.19 485.53 l3.78 0.43" stroke="#5a8cff" stroke-width="0.52" opacity="0.48"/><path d="M111.48 483.78 l2.72 1.38" stroke="#b0c8ff" stroke-width="0.75" opacity="0.38"/><path d="M181.81 492.62 l2.29 -0.92" stroke="#3f6fe0" stroke-width="0.76" opacity="0.31"/><path d="M152.96 492.75 l4.8 0.17" stroke="#8ab4ff" stroke-width="0.48" opacity="0.65"/><path d="M77.45 478.55 l5.63 -0.94" stroke="#3f6fe0" stroke-width="0.75" opacity="0.59"/><path d="M88.4 492.7 l6.69 -0.27" stroke="#5a8cff" stroke-width="0.47" opacity="0.64"/><path d="M86.56 492.59 l3.34 1.1" stroke="#3f6fe0" stroke-width="0.72" opacity="0.45"/><path d="M156.4 497.23 l4.95 -1.36" stroke="#3f6fe0" stroke-width="0.76" opacity="0.37"/><path d="M100.15 479.18 l5.34 -0.19" stroke="#5a8cff" stroke-width="0.58" opacity="0.51"/><path d="M139.47 477.09 l5 -1.08" stroke="#3f6fe0" stroke-width="0.57" opacity="0.53"/><path d="M92.22 499.72 l2.95 -1.6" stroke="#5a8cff" stroke-width="0.47" opacity="0.66"/><path d="M198.42 476.81 l4.31 1.25" stroke="#b0c8ff" stroke-width="0.4" opacity="0.66"/><path d="M78.77 477.54 l5.88 2.05" stroke="#3f6fe0" stroke-width="0.66" opacity="0.61"/><path d="M137.66 488.14 l6.23 0.92" stroke="#8ab4ff" stroke-width="0.64" opacity="0.61"/><path d="M85.46 486.45 l5.34 0.24" stroke="#3f6fe0" stroke-width="0.71" opacity="0.62"/><circle cx="153.07" cy="479.19" r="0.56" fill="#e0f0ff" opacity="0.51"/><circle cx="184.63" cy="478.67" r="0.74" fill="#9cc8ff" opacity="0.69"/><circle cx="163.19" cy="477.25" r="0.31" fill="#e0f0ff" opacity="0.83"/><circle cx="136.46" cy="487.1" r="0.63" fill="#9cc8ff" opacity="0.39"/><circle cx="182.5" cy="488.21" r="0.66" fill="#c6e0ff" opacity="0.72"/><circle cx="128.59" cy="474.51" r="0.49" fill="#6a9cff" opacity="0.84"/><circle cx="146.22" cy="494.43" r="0.52" fill="#c6e0ff" opacity="0.58"/><circle cx="97.88" cy="479.95" r="0.52" fill="#e0f0ff" opacity="0.39"/><circle cx="125.82" cy="479.06" r="0.74" fill="#9cc8ff" opacity="0.43"/><circle cx="165.21" cy="494.15" r="0.57" fill="#c6e0ff" opacity="0.44"/><circle cx="102.35" cy="474.1" r="0.41" fill="#c6e0ff" opacity="0.4"/><circle cx="163.74" cy="488.57" r="0.51" fill="#9cc8ff" opacity="0.93"/><circle cx="129.66" cy="500.33" r="0.58" fill="#6a9cff" opacity="0.5"/><circle cx="106.89" cy="488.45" r="0.41" fill="#e0f0ff" opacity="0.4"/><circle cx="153.68" cy="499.5" r="0.72" fill="#c6e0ff" opacity="0.37"/><circle cx="175.52" cy="484.29" r="0.59" fill="#9cc8ff" opacity="0.79"/><circle cx="89.7" cy="497.76" r="0.72" fill="#c6e0ff" opacity="0.63"/><circle cx="122.82" cy="484" r="0.68" fill="#e0f0ff" opacity="0.58"/><circle cx="179.75" cy="479.9" r="0.66" fill="#c6e0ff" opacity="0.64"/><circle cx="159.51" cy="484.21" r="0.57" fill="#6a9cff" opacity="0.63"/><circle cx="107.97" cy="478.08" r="0.52" fill="#e0f0ff" opacity="0.6"/><circle cx="152.59" cy="474.32" r="0.42" fill="#6a9cff" opacity="0.72"/><circle cx="100.99" cy="487.34" r="0.56" fill="#c6e0ff" opacity="0.51"/><circle cx="144.15" cy="483.11" r="0.37" fill="#6a9cff" opacity="0.43"/><circle cx="153.29" cy="476.34" r="0.75" fill="#e0f0ff" opacity="0.62"/><circle cx="133.04" cy="497.6" r="0.6" fill="#6a9cff" opacity="0.59"/><circle cx="165.66" cy="479.67" r="0.32" fill="#c6e0ff" opacity="0.66"/><circle cx="164.27" cy="484.5" r="0.52" fill="#c6e0ff" opacity="0.66"/><circle cx="164.75" cy="488.35" r="0.44" fill="#e0f0ff" opacity="0.75"/><circle cx="162.23" cy="480.85" r="0.62" fill="#e0f0ff" opacity="0.43"/><circle cx="166.22" cy="487.47" r="0.46" fill="#9cc8ff" opacity="0.53"/><circle cx="138.25" cy="474.14" r="0.31" fill="#e0f0ff" opacity="0.69"/><circle cx="167.3" cy="495.65" r="0.74" fill="#6a9cff" opacity="0.75"/><circle cx="203.63" cy="488.63" r="0.46" fill="#9cc8ff" opacity="0.92"/><circle cx="173.97" cy="497.31" r="0.41" fill="#6a9cff" opacity="0.4"/><circle cx="123.09" cy="474.68" r="0.47" fill="#6a9cff" opacity="0.52"/><circle cx="163.14" cy="492.69" r="0.4" fill="#e0f0ff" opacity="0.47"/><circle cx="153.2" cy="492.94" r="0.53" fill="#6a9cff" opacity="0.89"/><circle cx="122.3" cy="495.52" r="0.52" fill="#6a9cff" opacity="0.77"/><circle cx="106.01" cy="473.65" r="0.48" fill="#6a9cff" opacity="0.9"/><circle cx="134.73" cy="498.55" r="0.42" fill="#e0f0ff" opacity="0.65"/><circle cx="121.04" cy="482.11" r="0.41" fill="#9cc8ff" opacity="0.37"/><circle cx="132.66" cy="482.06" r="0.47" fill="#6a9cff" opacity="0.51"/><circle cx="140.52" cy="486.14" r="0.58" fill="#6a9cff" opacity="0.37"/><circle cx="133.25" cy="492.8" r="0.4" fill="#9cc8ff" opacity="0.73"/><circle cx="127.61" cy="484.64" r="0.42" fill="#e0f0ff" opacity="0.88"/><circle cx="128.76" cy="483.69" r="0.71" fill="#9cc8ff" opacity="0.83"/><circle cx="140.27" cy="486.86" r="0.51" fill="#9cc8ff" opacity="0.44"/><circle cx="128.12" cy="478.39" r="0.4" fill="#c6e0ff" opacity="0.49"/><circle cx="187.59" cy="484.03" r="0.41" fill="#e0f0ff" opacity="0.86"/><circle cx="150.22" cy="494.43" r="0.34" fill="#6a9cff" opacity="0.51"/><circle cx="154.71" cy="495.56" r="0.39" fill="#e0f0ff" opacity="0.76"/><circle cx="153.6" cy="499.99" r="0.67" fill="#c6e0ff" opacity="0.55"/><circle cx="129.8" cy="481.22" r="0.49" fill="#6a9cff" opacity="0.8"/><circle cx="99.66" cy="487.95" r="0.41" fill="#c6e0ff" opacity="0.57"/><circle cx="131.78" cy="493.65" r="0.69" fill="#9cc8ff" opacity="0.84"/><circle cx="85.52" cy="497.8" r="0.44" fill="#e0f0ff" opacity="0.66"/><circle cx="146.3" cy="490.4" r="0.49" fill="#e0f0ff" opacity="0.38"/><circle cx="142.22" cy="480.11" r="0.53" fill="#e0f0ff" opacity="0.5"/><circle cx="130.97" cy="492.12" r="0.38" fill="#c6e0ff" opacity="0.86"/><circle cx="128.48" cy="496.2" r="0.56" fill="#e0f0ff" opacity="0.73"/><circle cx="184.71" cy="480.53" r="0.37" fill="#c6e0ff" opacity="0.58"/><circle cx="184.96" cy="491.74" r="0.4" fill="#c6e0ff" opacity="0.93"/><circle cx="104.56" cy="495.14" r="0.72" fill="#6a9cff" opacity="0.76"/><circle cx="158.13" cy="484.74" r="0.58" fill="#e0f0ff" opacity="0.58"/><circle cx="142.95" cy="477.4" r="0.75" fill="#9cc8ff" opacity="0.47"/><circle cx="135.19" cy="482.98" r="0.54" fill="#9cc8ff" opacity="0.59"/><circle cx="196.87" cy="496.96" r="0.38" fill="#9cc8ff" opacity="0.54"/><circle cx="118.03" cy="495.41" r="0.68" fill="#6a9cff" opacity="0.48"/><circle cx="144.6" cy="476.98" r="0.56" fill="#c6e0ff" opacity="0.68"/><circle cx="119.75" cy="495.4" r="0.37" fill="#c6e0ff" opacity="0.85"/><circle cx="90.02" cy="497.65" r="0.49" fill="#c6e0ff" opacity="0.54"/><circle cx="127.9" cy="473.54" r="0.55" fill="#c6e0ff" opacity="0.51"/><circle cx="128.58" cy="475.27" r="0.39" fill="#6a9cff" opacity="0.69"/><circle cx="165.53" cy="477.25" r="0.3" fill="#6a9cff" opacity="0.75"/><circle cx="177.15" cy="476.91" r="0.66" fill="#e0f0ff" opacity="0.64"/><circle cx="150.69" cy="484.61" r="0.66" fill="#e0f0ff" opacity="0.68"/><circle cx="159.08" cy="496.16" r="0.41" fill="#c6e0ff" opacity="0.91"/><circle cx="190.54" cy="497.21" r="0.75" fill="#e0f0ff" opacity="0.69"/><circle cx="158.67" cy="497" r="0.73" fill="#9cc8ff" opacity="0.75"/><circle cx="146.62" cy="480.59" r="0.31" fill="#6a9cff" opacity="0.39"/><circle cx="88.86" cy="474.78" r="0.46" fill="#6a9cff" opacity="0.84"/><circle cx="163.33" cy="495.18" r="0.63" fill="#e0f0ff" opacity="0.53"/><circle cx="106.44" cy="495.47" r="0.65" fill="#e0f0ff" opacity="0.59"/><circle cx="141.3" cy="492.75" r="0.41" fill="#9cc8ff" opacity="0.36"/><circle cx="166.81" cy="493.28" r="0.53" fill="#6a9cff" opacity="0.84"/><circle cx="170.52" cy="483.21" r="0.59" fill="#6a9cff" opacity="0.54"/><circle cx="189.89" cy="489.64" r="0.42" fill="#c6e0ff" opacity="0.79"/><circle cx="167.76" cy="478.92" r="0.63" fill="#6a9cff" opacity="0.76"/><circle cx="156.26" cy="477" r="0.46" fill="#e0f0ff" opacity="0.36"/><circle cx="162.73" cy="484.19" r="0.32" fill="#9cc8ff" opacity="0.54"/><circle cx="78" cy="478.73" r="0.7" fill="#6a9cff" opacity="0.39"/><circle cx="132.89" cy="489.49" r="0.56" fill="#6a9cff" opacity="0.61"/><circle cx="170.55" cy="484.43" r="0.62" fill="#c6e0ff" opacity="0.84"/><circle cx="145.09" cy="474.96" r="0.48" fill="#6a9cff" opacity="0.88"/><circle cx="156.34" cy="473.28" r="0.63" fill="#e0f0ff" opacity="0.9"/><circle cx="113.94" cy="474.55" r="0.58" fill="#6a9cff" opacity="0.88"/><circle cx="176.16" cy="487.14" r="0.56" fill="#9cc8ff" opacity="0.42"/><circle cx="116.86" cy="493.68" r="0.63" fill="#e0f0ff" opacity="0.75"/><circle cx="124.15" cy="479.44" r="0.57" fill="#9cc8ff" opacity="0.66"/><circle cx="164.34" cy="473.9" r="0.58" fill="#e0f0ff" opacity="0.52"/><circle cx="159.63" cy="482.09" r="0.54" fill="#6a9cff" opacity="0.95"/><circle cx="152.88" cy="493.66" r="0.44" fill="#e0f0ff" opacity="0.94"/><circle cx="100.74" cy="476.55" r="0.75" fill="#e0f0ff" opacity="0.42"/><circle cx="184.81" cy="478.23" r="0.72" fill="#c6e0ff" opacity="0.85"/><circle cx="160.6" cy="500.82" r="0.33" fill="#9cc8ff" opacity="0.78"/><circle cx="115.68" cy="480.02" r="0.66" fill="#e0f0ff" opacity="0.47"/><circle cx="181.52" cy="486.69" r="0.73" fill="#c6e0ff" opacity="0.39"/><circle cx="152.85" cy="488.54" r="0.65" fill="#e0f0ff" opacity="0.88"/><circle cx="181.6" cy="474.57" r="0.69" fill="#9cc8ff" opacity="0.83"/><circle cx="165.4" cy="477.25" r="0.46" fill="#9cc8ff" opacity="0.55"/><circle cx="117.67" cy="481.08" r="0.49" fill="#e0f0ff" opacity="0.37"/><circle cx="136.06" cy="486.7" r="0.34" fill="#c6e0ff" opacity="0.67"/><circle cx="119.44" cy="481.86" r="0.73" fill="#c6e0ff" opacity="0.69"/><circle cx="179.23" cy="495.86" r="0.61" fill="#6a9cff" opacity="0.74"/><circle cx="148.97" cy="478.84" r="0.39" fill="#c6e0ff" opacity="0.45"/><circle cx="142.37" cy="480.79" r="0.42" fill="#6a9cff" opacity="0.72"/><circle cx="145.77" cy="483.01" r="0.39" fill="#9cc8ff" opacity="0.76"/><circle cx="147.55" cy="481.69" r="0.48" fill="#c6e0ff" opacity="0.39"/><circle cx="121.75" cy="480.44" r="0.47" fill="#e0f0ff" opacity="0.52"/><circle cx="160.28" cy="475.66" r="0.53" fill="#e0f0ff" opacity="0.49"/><circle cx="161.48" cy="489.22" r="0.43" fill="#6a9cff" opacity="0.92"/><circle cx="188.25" cy="479.32" r="0.51" fill="#c6e0ff" opacity="0.8"/><circle cx="170.46" cy="489.84" r="0.5" fill="#9cc8ff" opacity="0.57"/><circle cx="130.13" cy="491.44" r="0.42" fill="#9cc8ff" opacity="0.75"/><circle cx="184.43" cy="479.85" r="0.49" fill="#c6e0ff" opacity="0.71"/><circle cx="169.84" cy="480.79" r="0.35" fill="#9cc8ff" opacity="0.68"/><circle cx="127.85" cy="475.78" r="0.7" fill="#9cc8ff" opacity="0.82"/><circle cx="157.4" cy="489.53" r="0.61" fill="#9cc8ff" opacity="0.75"/><circle cx="150.75" cy="477.36" r="0.33" fill="#c6e0ff" opacity="0.63"/><circle cx="131.97" cy="489.96" r="0.74" fill="#9cc8ff" opacity="0.95"/><circle cx="190.93" cy="484.06" r="0.67" fill="#9cc8ff" opacity="0.95"/><circle cx="180.54" cy="484.24" r="0.6" fill="#c6e0ff" opacity="0.66"/><circle cx="163.57" cy="489.36" r="0.52" fill="#c6e0ff" opacity="0.66"/><circle cx="193.97" cy="473.1" r="0.73" fill="#6a9cff" opacity="0.75"/><circle cx="180.26" cy="500.16" r="0.51" fill="#9cc8ff" opacity="0.61"/><circle cx="166.11" cy="483.25" r="0.67" fill="#9cc8ff" opacity="0.42"/><circle cx="173.97" cy="484.56" r="0.55" fill="#9cc8ff" opacity="0.82"/><circle cx="153.37" cy="487.27" r="0.44" fill="#6a9cff" opacity="0.82"/><circle cx="194.1" cy="479.91" r="0.49" fill="#9cc8ff" opacity="0.94"/><circle cx="134.46" cy="475.93" r="0.36" fill="#9cc8ff" opacity="0.84"/><circle cx="140.29" cy="487.11" r="0.36" fill="#c6e0ff" opacity="0.59"/><circle cx="104.37" cy="499.99" r="0.49" fill="#9cc8ff" opacity="0.49"/><circle cx="111.18" cy="495.32" r="0.35" fill="#e0f0ff" opacity="0.44"/><circle cx="142.92" cy="476.09" r="0.44" fill="#9cc8ff" opacity="0.58"/><circle cx="148.6" cy="481.39" r="0.4" fill="#9cc8ff" opacity="0.74"/><circle cx="94.26" cy="478.7" r="0.75" fill="#c6e0ff" opacity="0.69"/><circle cx="181" cy="487.03" r="0.71" fill="#e0f0ff" opacity="0.73"/><circle cx="145.57" cy="479.16" r="0.34" fill="#e0f0ff" opacity="0.58"/><circle cx="190.36" cy="491.16" r="0.45" fill="#9cc8ff" opacity="0.38"/><circle cx="155.49" cy="487.78" r="0.55" fill="#e0f0ff" opacity="0.84"/><circle cx="140.8" cy="491.9" r="0.62" fill="#9cc8ff" opacity="0.54"/><circle cx="128.4" cy="493.98" r="0.52" fill="#9cc8ff" opacity="0.57"/><circle cx="152.18" cy="489.61" r="0.35" fill="#6a9cff" opacity="0.93"/><circle cx="123.09" cy="483.33" r="0.44" fill="#9cc8ff" opacity="0.54"/><circle cx="180.28" cy="486.93" r="0.53" fill="#6a9cff" opacity="0.38"/><circle cx="169.08" cy="480.56" r="0.66" fill="#e0f0ff" opacity="0.74"/><circle cx="162.59" cy="483.45" r="0.34" fill="#9cc8ff" opacity="0.4"/><circle cx="144.35" cy="481.89" r="0.67" fill="#6a9cff" opacity="0.74"/><circle cx="197.75" cy="474.34" r="0.58" fill="#c6e0ff" opacity="0.91"/><circle cx="167.78" cy="490.88" r="0.31" fill="#c6e0ff" opacity="0.7"/><circle cx="199" cy="484.71" r="0.61" fill="#9cc8ff" opacity="0.45"/><circle cx="151.72" cy="475.34" r="0.61" fill="#c6e0ff" opacity="0.58"/><circle cx="119.57" cy="476.3" r="0.44" fill="#9cc8ff" opacity="0.85"/><circle cx="160.38" cy="499.78" r="0.46" fill="#9cc8ff" opacity="0.77"/><circle cx="113.29" cy="491.28" r="0.35" fill="#c6e0ff" opacity="0.41"/><circle cx="177.68" cy="482.08" r="0.36" fill="#9cc8ff" opacity="0.44"/><circle cx="145.38" cy="498.1" r="0.72" fill="#c6e0ff" opacity="0.75"/><circle cx="180.35" cy="498.99" r="0.52" fill="#e0f0ff" opacity="0.66"/><circle cx="112.36" cy="496.94" r="0.65" fill="#6a9cff" opacity="0.47"/><circle cx="154.34" cy="482.7" r="0.37" fill="#6a9cff" opacity="0.58"/><circle cx="164.87" cy="485.68" r="0.56" fill="#e0f0ff" opacity="0.56"/><circle cx="106.98" cy="489.35" r="0.52" fill="#e0f0ff" opacity="0.55"/><circle cx="142.9" cy="480.32" r="0.63" fill="#9cc8ff" opacity="0.5"/><circle cx="129.3" cy="474.8" r="0.67" fill="#e0f0ff" opacity="0.5"/><circle cx="164.96" cy="474.83" r="0.38" fill="#e0f0ff" opacity="0.9"/><circle cx="128.31" cy="494.09" r="0.35" fill="#6a9cff" opacity="0.65"/><circle cx="151.8" cy="477.21" r="0.75" fill="#6a9cff" opacity="0.69"/><circle cx="124.4" cy="477.24" r="0.73" fill="#6a9cff" opacity="0.83"/><circle cx="141.41" cy="475.74" r="0.65" fill="#c6e0ff" opacity="0.94"/><circle cx="181.55" cy="482.64" r="0.37" fill="#c6e0ff" opacity="0.7"/><circle cx="112.42" cy="498.18" r="0.72" fill="#6a9cff" opacity="0.57"/><circle cx="195.53" cy="481.14" r="0.69" fill="#6a9cff" opacity="0.42"/><circle cx="135.53" cy="483.02" r="0.38" fill="#6a9cff" opacity="0.75"/><circle cx="141.26" cy="480.35" r="0.33" fill="#9cc8ff" opacity="0.52"/><circle cx="187.48" cy="480.77" r="0.53" fill="#e0f0ff" opacity="0.45"/><circle cx="187.45" cy="490.06" r="0.54" fill="#c6e0ff" opacity="0.67"/><circle cx="104.5" cy="491.48" r="0.71" fill="#6a9cff" opacity="0.53"/><circle cx="103.18" cy="491.25" r="0.54" fill="#e0f0ff" opacity="0.62"/><circle cx="173.08" cy="483.37" r="0.63" fill="#6a9cff" opacity="0.69"/><circle cx="137.32" cy="499.6" r="0.35" fill="#9cc8ff" opacity="0.53"/><circle cx="167.74" cy="473.07" r="0.72" fill="#9cc8ff" opacity="0.47"/><circle cx="131.15" cy="476.94" r="0.73" fill="#9cc8ff" opacity="0.43"/><circle cx="170.74" cy="484.57" r="0.36" fill="#9cc8ff" opacity="0.61"/><circle cx="144.54" cy="492.45" r="0.58" fill="#c6e0ff" opacity="0.88"/><circle cx="138.5" cy="475.85" r="0.36" fill="#c6e0ff" opacity="0.4"/><circle cx="111.82" cy="500.23" r="0.55" fill="#c6e0ff" opacity="0.89"/><circle cx="153.14" cy="480.17" r="0.4" fill="#6a9cff" opacity="0.91"/><circle cx="138.98" cy="497.04" r="0.72" fill="#9cc8ff" opacity="0.72"/><circle cx="178.45" cy="489" r="0.7" fill="#6a9cff" opacity="0.91"/><circle cx="74.59" cy="473.89" r="0.35" fill="#6a9cff" opacity="0.92"/><circle cx="140.84" cy="473.67" r="0.31" fill="#c6e0ff" opacity="0.76"/><circle cx="110.78" cy="494.21" r="0.66" fill="#9cc8ff" opacity="0.57"/><circle cx="145.1" cy="499.83" r="0.4" fill="#e0f0ff" opacity="0.85"/><circle cx="127.32" cy="482.71" r="0.31" fill="#c6e0ff" opacity="0.51"/><circle cx="164.87" cy="489.4" r="0.54" fill="#6a9cff" opacity="0.66"/><circle cx="123.98" cy="499.07" r="0.49" fill="#c6e0ff" opacity="0.44"/><circle cx="184.94" cy="480.1" r="0.52" fill="#6a9cff" opacity="0.46"/><circle cx="132.02" cy="489.67" r="0.56" fill="#9cc8ff" opacity="0.46"/><circle cx="112.95" cy="479.5" r="0.44" fill="#6a9cff" opacity="0.79"/><circle cx="152.25" cy="479.94" r="0.34" fill="#c6e0ff" opacity="0.61"/><circle cx="157.62" cy="474.26" r="0.55" fill="#c6e0ff" opacity="0.57"/><circle cx="109.08" cy="500.73" r="0.47" fill="#c6e0ff" opacity="0.6"/><circle cx="201.77" cy="491.77" r="0.4" fill="#c6e0ff" opacity="0.58"/><circle cx="140.71" cy="493.76" r="0.51" fill="#9cc8ff" opacity="0.38"/><circle cx="189.16" cy="473.92" r="0.73" fill="#e0f0ff" opacity="0.9"/><circle cx="162.63" cy="497.59" r="0.73" fill="#6a9cff" opacity="0.56"/><circle cx="165.96" cy="499.06" r="0.36" fill="#6a9cff" opacity="0.92"/><circle cx="155.71" cy="491.99" r="0.7" fill="#e0f0ff" opacity="0.57"/><circle cx="165.16" cy="493.35" r="0.72" fill="#c6e0ff" opacity="0.91"/><circle cx="167.27" cy="482.73" r="0.32" fill="#6a9cff" opacity="0.54"/><circle cx="158.35" cy="489.31" r="0.42" fill="#e0f0ff" opacity="0.81"/><circle cx="78.28" cy="475.28" r="0.4" fill="#9cc8ff" opacity="0.9"/><circle cx="137.84" cy="500.31" r="0.72" fill="#c6e0ff" opacity="0.45"/><circle cx="131.17" cy="481.24" r="0.66" fill="#e0f0ff" opacity="0.56"/><circle cx="184.03" cy="500.93" r="0.52" fill="#9cc8ff" opacity="0.46"/><circle cx="121.48" cy="494.36" r="0.48" fill="#9cc8ff" opacity="0.52"/><circle cx="179.15" cy="496.03" r="0.73" fill="#9cc8ff" opacity="0.48"/><circle cx="158.57" cy="495.38" r="0.52" fill="#9cc8ff" opacity="0.63"/><circle cx="152.16" cy="481.52" r="0.32" fill="#6a9cff" opacity="0.86"/><circle cx="154.78" cy="488.73" r="0.61" fill="#6a9cff" opacity="0.72"/><circle cx="138.47" cy="497.75" r="0.56" fill="#e0f0ff" opacity="0.61"/><circle cx="175.71" cy="489.43" r="0.42" fill="#e0f0ff" opacity="0.49"/><circle cx="204.04" cy="497.7" r="0.37" fill="#6a9cff" opacity="0.81"/><circle cx="126.96" cy="499.15" r="0.44" fill="#e0f0ff" opacity="0.44"/><circle cx="173.2" cy="475.71" r="0.61" fill="#6a9cff" opacity="0.64"/><circle cx="142.05" cy="476.14" r="0.64" fill="#e0f0ff" opacity="0.76"/><circle cx="134.17" cy="486.94" r="0.68" fill="#e0f0ff" opacity="0.38"/><circle cx="124.08" cy="481.95" r="0.59" fill="#9cc8ff" opacity="0.73"/><circle cx="173.9" cy="485.4" r="0.34" fill="#9cc8ff" opacity="0.49"/><circle cx="145.46" cy="496.21" r="0.66" fill="#6a9cff" opacity="0.47"/><circle cx="140.66" cy="482.89" r="0.33" fill="#9cc8ff" opacity="0.64"/><circle cx="139.65" cy="486.5" r="0.43" fill="#6a9cff" opacity="0.91"/><circle cx="122.24" cy="485.49" r="0.43" fill="#c6e0ff" opacity="0.76"/><circle cx="113.46" cy="495.33" r="0.62" fill="#6a9cff" opacity="0.83"/><circle cx="174.63" cy="481.49" r="0.41" fill="#9cc8ff" opacity="0.92"/><circle cx="199.27" cy="491.42" r="0.51" fill="#e0f0ff" opacity="0.91"/><circle cx="143.25" cy="491.68" r="0.35" fill="#6a9cff" opacity="0.87"/><circle cx="141.37" cy="481.7" r="0.38" fill="#6a9cff" opacity="0.94"/><circle cx="138.88" cy="493.35" r="0.33" fill="#e0f0ff" opacity="0.81"/><circle cx="139.17" cy="494.99" r="0.69" fill="#6a9cff" opacity="0.92"/><rect x="71" y="471.6" width="95" height="1.2" fill="#8a6a8a" opacity="0.35"/><path d="M136.6 475 L137.3 465 L138 475 Z" fill="#b0c8ff" opacity="0.8"/><rect x="164" y="452.5" width="32.3" height="34" fill="#fbfbfc"/><rect x="177" y="454.6" width="6" height="0.9" fill="#444"/><rect x="166" y="459" width="28" height="2.6" fill="#eff0f3"/><rect x="166" y="464.4" width="28" height="2.6" fill="#eff0f3"/><rect x="166" y="469.6" width="20" height="2.6" fill="#eff0f3"/><rect x="187" y="469.6" width="7" height="2.6" fill="#dcdde0"/><rect x="166" y="476.2" width="28" height="2.2" fill="#4a88d0"/><rect x="166" y="481" width="3" height="0.9" fill="#888"/><rect x="171" y="484" width="18" height="0.8" fill="#99a"/></g><g id="sphone"><use href="#uphone" transform="translate(193.2 463) scale(0.759 0.761)"/></g></defs><use href="#monitor"/><use href="#sphone"/><g stroke="#2d5a90" stroke-width="1.4" fill="none"><path d="M267.5 464.5 V847.5"/><path d="M267.5 464.5 H329"/><path d="M205 655.5 H329"/><path d="M267.5 847.5 H329"/><path d="M144.5 622.5 V588"/></g><g fill="#1a63c9"><path d="M328.2 460 L334.8 464.5 L328.2 469 Z"/><path d="M328.2 651 L334.8 655.5 L328.2 660 Z"/><path d="M328.2 843 L334.8 847.5 L328.2 852 Z"/><path d="M140 588.7 L144.5 582 L149 588.7 Z"/></g><path fill="#1565cf" d="M104 685 C96 685 92 676 92 667 C92 656 100 648 112 648 C114 636 124 627 137 627 C147 627 155 632 159 640 C163 635 168 632.5 174 632.5 C186 632.5 193 641 194 652 C199 655 202 661 202 668 C202 678 196 685 186 685 Z"/><use href="#uphone" transform="translate(350.4 409.3)"/><use href="#meter" transform="translate(0 0)"/><g stroke="#2d5a90" stroke-width="1.3"><path d="M426 461.3 H572.7"/><path d="M420.1 468.5 H568"/></g><g fill="#1a63c9"><path d="M420.1 461.3 L426.8 456.9 L426.8 465.7 Z"/><path d="M573.8 468.5 L567.4 464.2 L567.4 472.8 Z"/></g><use href="#uphone" transform="translate(350.4 598.5)"/><use href="#meter" transform="translate(0 189.2)"/><g stroke="#2d5a90" stroke-width="1.3"><path d="M426 651.3 H572.7"/><path d="M420.1 658.5 H568"/></g><g fill="#1a63c9"><path d="M420.1 651.3 L426.8 646.9 L426.8 655.7 Z"/><path d="M573.8 658.5 L567.4 654.2 L567.4 662.8 Z"/></g><use href="#uphone" transform="translate(350.4 785.5)"/><use href="#meter" transform="translate(0 376.3)"/><g stroke="#2d5a90" stroke-width="1.3"><path d="M426 844.3 H572.7"/><path d="M420.1 851.5 H568"/></g><g fill="#1a63c9"><path d="M420.1 844.3 L426.8 839.9 L426.8 848.7 Z"/><path d="M573.8 851.5 L567.4 847.2 L567.4 855.8 Z"/></g></svg>
<div class="lbl" style="left:119px;top:649px;color:#fff;font-size:18px;letter-spacing:2.2px;-webkit-text-stroke:0.35px #fff">云平台</div>
<div class="lbl" style="left:115px;top:553px">管理员</div>
<div class="lbl" style="left:357px;top:521px">用户</div><div class="lbl" style="left:612px;top:521px">水表</div><div class="g4" style="left:439px;top:430px"><span class="n4">4G</span>通信基站</div><div class="nd" style="left:442px;top:474px">无距离限制</div><div class="lbl" style="left:357px;top:710.2px">用户</div><div class="lbl" style="left:612px;top:710.2px">水表</div><div class="g4" style="left:439px;top:620px"><span class="n4">4G</span>通信基站</div><div class="nd" style="left:442px;top:664px">无距离限制</div><div class="lbl" style="left:357px;top:897.2px">用户</div><div class="lbl" style="left:612px;top:897.3px">水表</div><div class="g4" style="left:439px;top:813px"><span class="n4">4G</span>通信基站</div><div class="nd" style="left:442px;top:857px">无距离限制</div></body></html>
